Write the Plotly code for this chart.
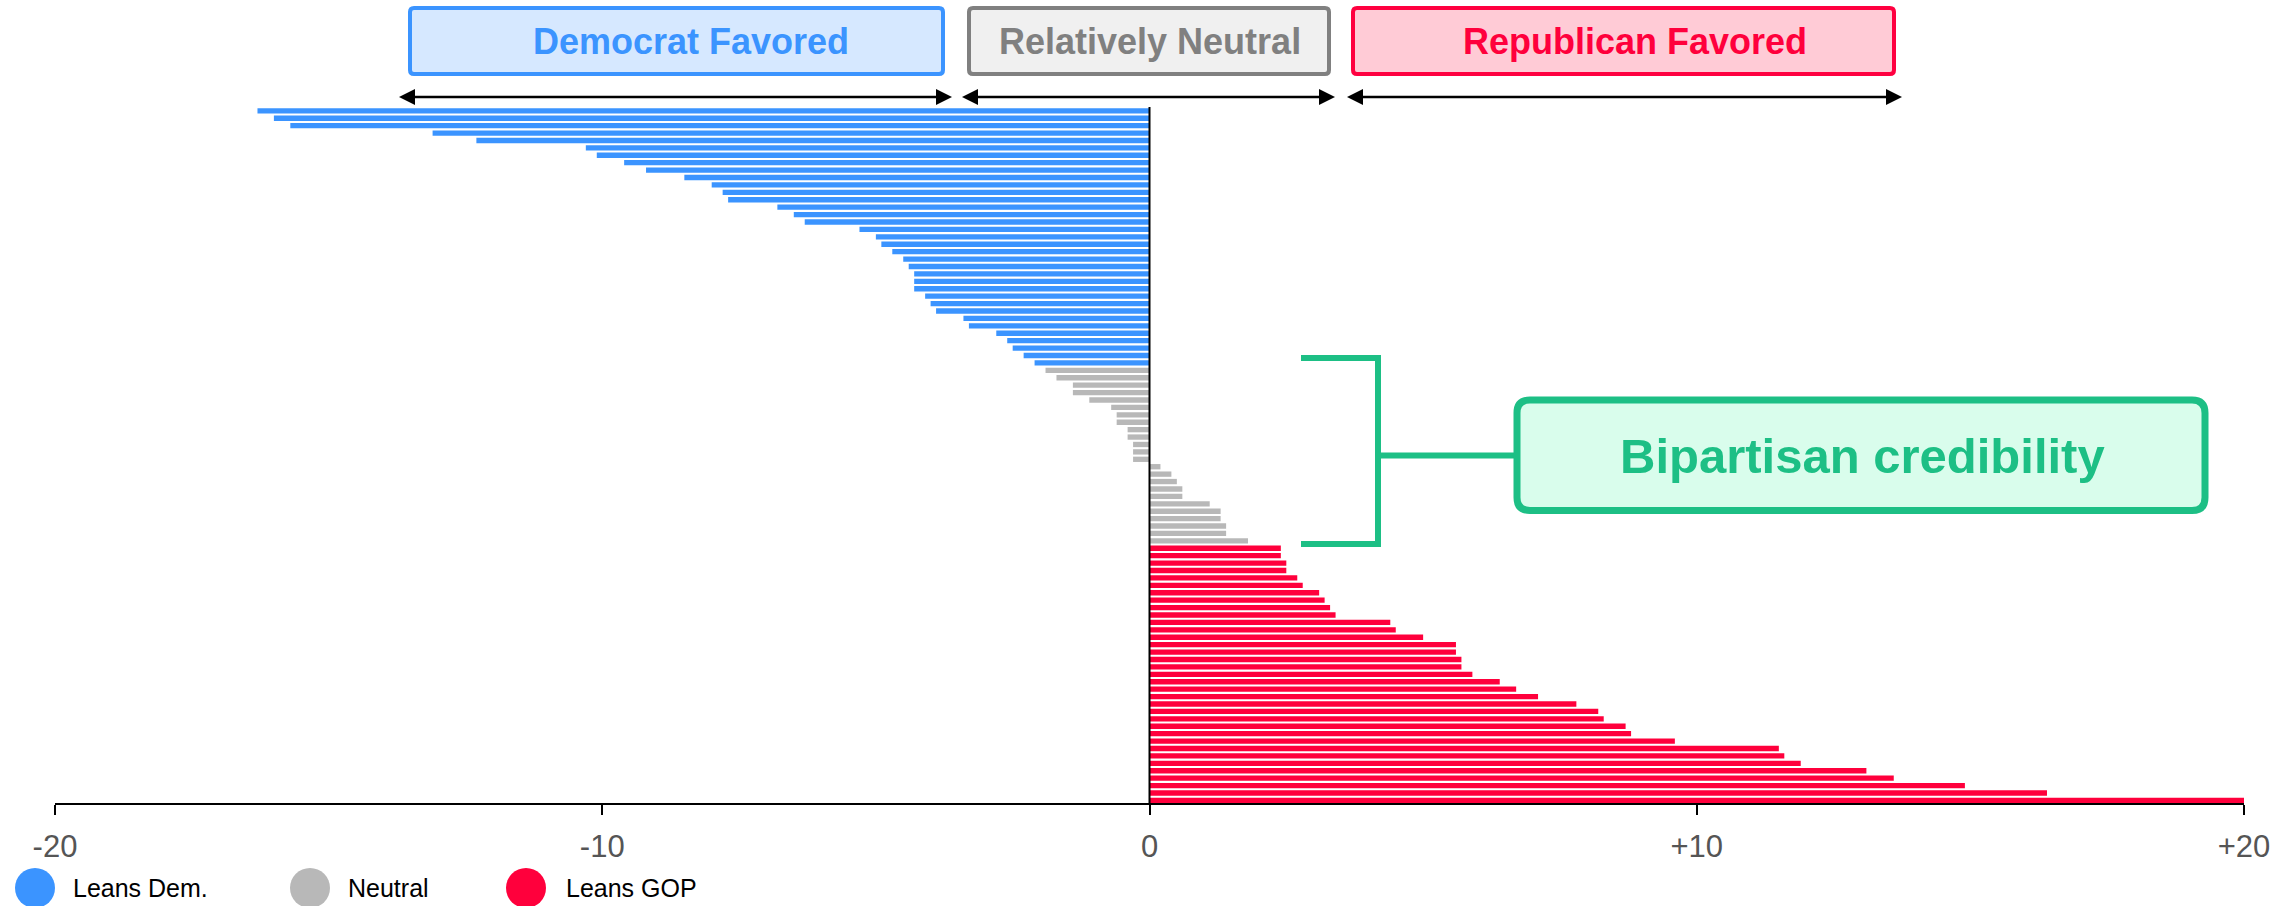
import plotly.graph_objects as go

# ---------------- data ----------------
dem_margin = [-16.3, -16.0, -15.7, -13.1, -12.3, -10.3, -10.1, -9.6, -9.2, -8.5,
              -8.0, -7.8, -7.7, -6.8, -6.5, -6.3, -5.3, -5.0, -4.9, -4.7,
              -4.5, -4.4, -4.3, -4.3, -4.3, -4.1, -4.0, -3.9, -3.4, -3.3,
              -2.8, -2.6, -2.5, -2.3, -2.1]
neutral_margin = [-1.9, -1.7, -1.4, -1.4, -1.1, -0.7, -0.6, -0.6, -0.4, -0.4,
                  -0.3, -0.3, -0.3, 0.2, 0.4, 0.5, 0.6, 0.6, 1.1, 1.3,
                  1.3, 1.4, 1.4, 1.8]
gop_margin = [2.4, 2.4, 2.5, 2.5, 2.7, 2.8, 3.1, 3.2, 3.3, 3.4,
              4.4, 4.5, 5.0, 5.6, 5.6, 5.7, 5.7, 5.9, 6.4, 6.7,
              7.1, 7.8, 8.2, 8.3, 8.7, 8.8, 9.6, 11.5, 11.6, 11.9,
              13.1, 13.6, 14.9, 16.4, 20.0]
series_names = ["Leans Dem.", "Neutral", "Leans GOP"]
tick_vals = [-20, -10, 0, 10, 20]
tick_text = ["-20", "-10", "0", "+10", "+20"]
zone_labels = ["Democrat Favored", "Relatively Neutral", "Republican Favored"]
callout_label = "Bipartisan credibility"

# ---------------- style ----------------
BLUE = "#3b94ff"
GRAY = "#b8b8b8"
RED = "#ff003c"
GREEN = "#1dbf85"
FONT = "Liberation Sans, Arial, Helvetica, sans-serif"

W, H = 2295, 906
ML, MR, MT, MB = 55, 51, 0, 103
PW, PH = W - ML - MR, H - MT - MB
BAR0, STEP = 110.8, 7.415   # pixel centre of first bar, pixel step between bars


def X(px):
    return (px - ML) / PW


def Y(py):
    return (H - MB - py) / PH


n_dem, n_neu, n_gop = len(dem_margin), len(neutral_margin), len(gop_margin)
y_dem = list(range(n_dem))
y_neu = list(range(n_dem, n_dem + n_neu))
y_gop = list(range(n_dem + n_neu, n_dem + n_neu + n_gop))

fig = go.Figure()
for vals, ys, col, name in [(dem_margin, y_dem, BLUE, series_names[0]),
                            (neutral_margin, y_neu, GRAY, series_names[1]),
                            (gop_margin, y_gop, RED, series_names[2])]:
    fig.add_trace(go.Bar(x=vals, y=ys, orientation="h", marker=dict(color=col, line=dict(width=0)),
                         width=0.72, name=name, showlegend=False, hoverinfo="x"))

shapes = []
annotations = []


def rrect(x0, y0, x1, y1, r):
    pts = [
        f"M{X(x0 + r)},{Y(y0)}",
        f"L{X(x1 - r)},{Y(y0)}", f"Q{X(x1)},{Y(y0)} {X(x1)},{Y(y0 + r)}",
        f"L{X(x1)},{Y(y1 - r)}", f"Q{X(x1)},{Y(y1)} {X(x1 - r)},{Y(y1)}",
        f"L{X(x0 + r)},{Y(y1)}", f"Q{X(x0)},{Y(y1)} {X(x0)},{Y(y1 - r)}",
        f"L{X(x0)},{Y(y0 + r)}", f"Q{X(x0)},{Y(y0)} {X(x0 + r)},{Y(y0)}", "Z"]
    return " ".join(pts)


# zero line
shapes.append(dict(type="line", xref="x", yref="paper", x0=0, x1=0, y0=Y(107), y1=Y(803),
                   line=dict(color="black", width=2), layer="above"))

# top zone boxes
zones = [
    (410, 943, 691, BLUE, "#d6e8ff", BLUE),
    (969, 1329, 1150, "#808080", "#f0f0f0", "#808080"),
    (1353, 1894, 1635, "#ff0040", "#ffcbd6", RED),
]
for (bx0, bx1, tx, border, fill, tcol), label in zip(zones, zone_labels):
    shapes.append(dict(type="path", xref="paper", yref="paper", path=rrect(bx0, 8, bx1, 74, 4),
                       fillcolor=fill, line=dict(color=border, width=4), layer="above"))
    annotations.append(dict(xref="paper", yref="paper", x=X(tx), y=Y(42), text=f"<b>{label}</b>",
                            showarrow=False, xanchor="center", yanchor="middle",
                            font=dict(family=FONT, size=36, color=tcol)))

# double-headed arrows
arrows = [(399, 952), (962, 1335), (1347, 1902)]
AY, HL, HH = 97, 16, 8
for a0, a1 in arrows:
    shapes.append(dict(type="line", xref="paper", yref="paper", x0=X(a0 + HL - 2), x1=X(a1 - HL + 2),
                       y0=Y(AY), y1=Y(AY), line=dict(color="black", width=2.5), layer="above"))
    for tip, back in [(a0, a0 + HL), (a1, a1 - HL)]:
        shapes.append(dict(type="path", xref="paper", yref="paper",
                           path=f"M{X(tip)},{Y(AY)} L{X(back)},{Y(AY - HH)} L{X(back)},{Y(AY + HH)} Z",
                           fillcolor="black", line=dict(color="black", width=0), layer="above"))

# bracket
BX0, BX1, BT, BB, BM = 1301, 1378, 358, 544, 455.5
for path in [f"M{X(BX0)},{Y(BT)} L{X(BX1)},{Y(BT)} L{X(BX1)},{Y(BB)} L{X(BX0)},{Y(BB)}",
             f"M{X(BX1)},{Y(BM)} L{X(1517)},{Y(BM)}"]:
    shapes.append(dict(type="path", xref="paper", yref="paper", path=path,
                       line=dict(color=GREEN, width=6), layer="above"))
shapes.append(dict(type="path", xref="paper", yref="paper", path=rrect(1517, 400, 2205, 510.5, 13),
                   fillcolor="#d9fdec", line=dict(color=GREEN, width=7), layer="above"))
annotations.append(dict(xref="paper", yref="paper", x=X(1862), y=Y(456), text=f"<b>{callout_label}</b>",
                        showarrow=False, xanchor="center", yanchor="middle",
                        font=dict(family=FONT, size=49, color=GREEN)))

# legend
for (cx, tx), name, col in zip([(35, 71), (310, 346), (526, 564)], series_names, [BLUE, GRAY, RED]):
    shapes.append(dict(type="circle", xref="paper", yref="paper", x0=X(cx - 20), x1=X(cx + 20),
                       y0=Y(868), y1=Y(908), fillcolor=col, line=dict(width=0), layer="above"))
    annotations.append(dict(xref="paper", yref="paper", x=X(tx), y=Y(888), text=name, showarrow=False,
                            xanchor="left", yanchor="middle", font=dict(family=FONT, size=25, color="black")))

fig.update_layout(
    width=W, height=H,
    margin=dict(l=ML, r=MR, t=MT, b=MB, pad=0, autoexpand=False),
    paper_bgcolor="white", plot_bgcolor="white",
    barmode="overlay", bargap=0.28,
    shapes=shapes, annotations=annotations,
    showlegend=False,
    xaxis=dict(range=[-20, 20], tickvals=tick_vals, ticktext=tick_text, showgrid=False, zeroline=False,
               showline=True, linecolor="black", linewidth=2, ticks="outside", ticklen=10, tickwidth=1.5,
               tickcolor="black", tickfont=dict(family=FONT, size=31, color="#555555"),
               ticklabelstandoff=5, fixedrange=True),
    yaxis=dict(range=[(H - MB - BAR0) / STEP, -BAR0 / STEP], showticklabels=False, showgrid=False,
               zeroline=False, showline=False, ticks="", fixedrange=True),
)

fig.write_html("out.html", config={"displayModeBar": False})
